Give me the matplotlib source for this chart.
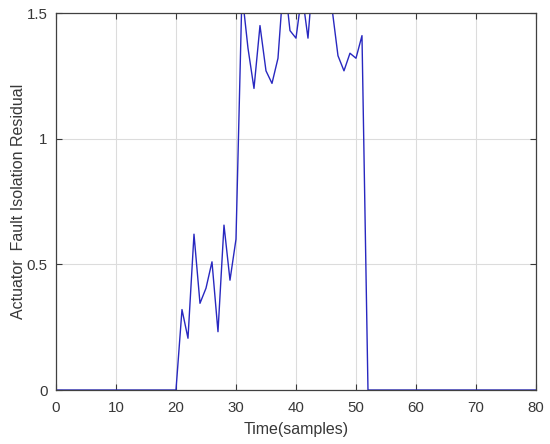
import numpy as np
import matplotlib
matplotlib.use("Agg")
import matplotlib.pyplot as plt

plt.rcParams['font.family'] = ['Liberation Sans', 'DejaVu Sans']

# residual per sample (values above 1.5 are clipped in the original)
samples = np.arange(0, 81)
residual = [0.0] * 21 + [
    0.32, 0.206, 0.62, 0.345, 0.405, 0.51, 0.232, 0.656, 0.437, 0.60,   # 21-30
    1.58, 1.36, 1.20, 1.45, 1.27, 1.22, 1.32, 1.65, 1.43, 1.40,        # 31-40
    1.58, 1.40, 1.70, 1.72, 1.68, 1.52, 1.33, 1.27, 1.34, 1.32,        # 41-50
    1.41,                                                               # 51
] + [0.0] * 29

fig = plt.figure(figsize=(5.5, 4.44), dpi=100)
ax = fig.add_axes([0.1018, 0.1216, 0.8727, 0.8491])

ax.plot(samples, residual, color='#2828c0', linewidth=1.0)

ax.set_xlim(0, 80)
ax.set_ylim(0, 1.5)
ax.set_xticks(np.arange(0, 81, 10))
ax.set_yticks([0, 0.5, 1, 1.5])
ax.set_yticklabels(['0', '0.5', '1', '1.5'])

ax.grid(True, color='#dcdcdc', linewidth=0.8)
ax.tick_params(direction='in', top=True, right=True, length=4,
               labelsize=10.8, colors='#383838')
ax.tick_params(axis='x', pad=8)
ax.tick_params(axis='y', pad=6)
for s in ax.spines.values():
    s.set_color('#404040')
    s.set_linewidth(0.9)

ax.set_xlabel('Time(samples)', fontsize=11.5, color='#383838')
ax.set_ylabel('Actuator  Fault Isolation Residual', fontsize=11.5, color='#383838')
ax.xaxis.set_label_coords(0.5, -0.085)
ax.yaxis.set_label_coords(-0.062, 0.5)

fig.savefig('out.png', dpi=100)
